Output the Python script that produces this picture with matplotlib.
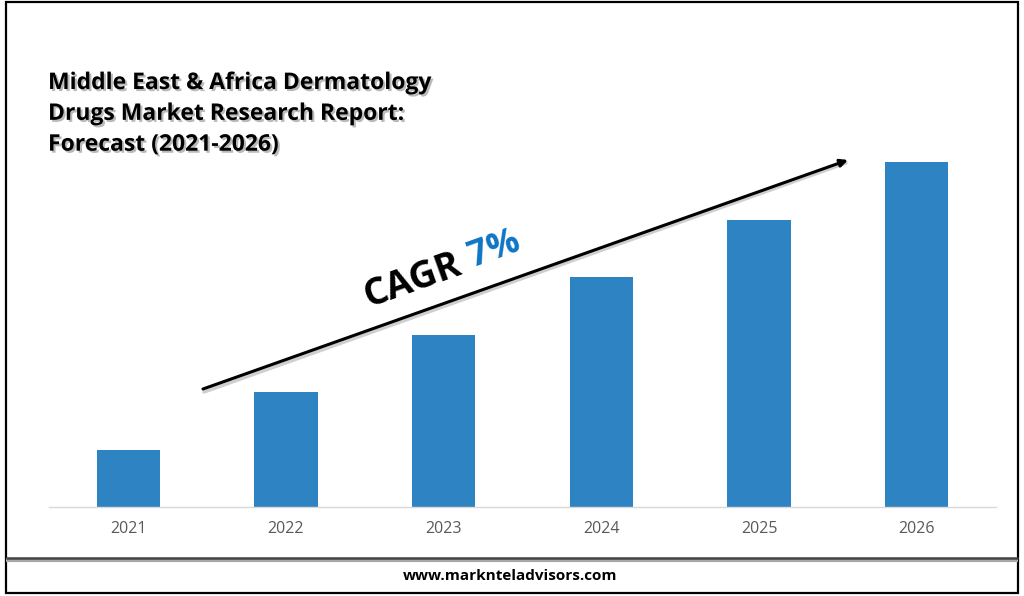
import matplotlib
matplotlib.use("Agg")
import matplotlib.pyplot as plt
import matplotlib.patheffects as pe
from matplotlib.patches import Rectangle, FancyArrowPatch

years = ["2021", "2022", "2023", "2024", "2025", "2026"]
values = [1.0, 2.0, 3.0, 4.0, 5.0, 6.0]
title_lines = "Middle East & Africa Dermatology\nDrugs Market Research Report:\nForecast (2021-2026)"

W, H = 1024, 596
plt.rcParams["font.family"] = ["Open Sans", "DejaVu Sans"]
fig = plt.figure(figsize=(W/100, H/100), dpi=100, facecolor="white")

# overlay in pixel coordinates
bg = fig.add_axes([0, 0, 1, 1])
bg.set_xlim(0, W); bg.set_ylim(H, 0); bg.axis("off")
bg.add_patch(Rectangle((6, 2), 1012, 591, fill=False, ec="black", lw=1.6))
bg.plot([6, 1018], [560, 560], color="#a8a8a8", lw=3, solid_capstyle="butt")
bg.plot([6, 1018], [558, 558], color="#444444", lw=1.8, solid_capstyle="butt")

ax = fig.add_axes([49.5/W, 1-507/H, (995.5-49.5)/W, (507-162)/H])
ax.patch.set_alpha(0)
ax.bar(range(len(years)), values, width=0.4, color="#2e83c3")
ax.set_xlim(-0.5, 5.5); ax.set_ylim(0, 6)
ax.set_xticks(range(len(years)), years)
ax.tick_params(axis="x", length=0, pad=10, labelsize=11.5, labelcolor="#595959")
ax.set_yticks([])
for s in ("top", "left", "right"):
    ax.spines[s].set_visible(False)
ax.spines["bottom"].set_color("#d9d9d9")
ax.spines["bottom"].set_linewidth(1)

top = fig.add_axes([0, 0, 1, 1])
top.set_xlim(0, W); top.set_ylim(H, 0); top.axis("off"); top.patch.set_alpha(0)
top.text(48, 71, title_lines, fontsize=16.5, fontweight="bold", color="black", va="top", ha="left",
         linespacing=1.38,
         path_effects=[pe.withSimplePatchShadow(offset=(1.5, -1.5), shadow_rgbFace="#777777", alpha=0.5)])
shadow = FancyArrowPatch((204, 392), (846, 163), arrowstyle="-", color="#bbbbbb", lw=2.5, shrinkA=0, shrinkB=0, alpha=0.7)
top.add_patch(shadow)
arrow = FancyArrowPatch((203, 389), (848, 160), arrowstyle="-|>", mutation_scale=11, color="black", lw=2.2,
                        shrinkA=0, shrinkB=0)
top.add_patch(arrow)
top.text(369, 307, "CAGR", fontsize=27, fontweight="bold", rotation=19.7, rotation_mode="anchor", ha="left", va="baseline", color="black")
top.text(473, 267, "7%", fontsize=25.5, fontweight="bold", rotation=19.7, rotation_mode="anchor", ha="left", va="baseline", color="#0f75c4")
top.text(510, 576, "www.marknteladvisors.com", fontsize=11, fontweight="bold", ha="center", va="center", color="black")
fig.savefig("out.png", dpi=100)
